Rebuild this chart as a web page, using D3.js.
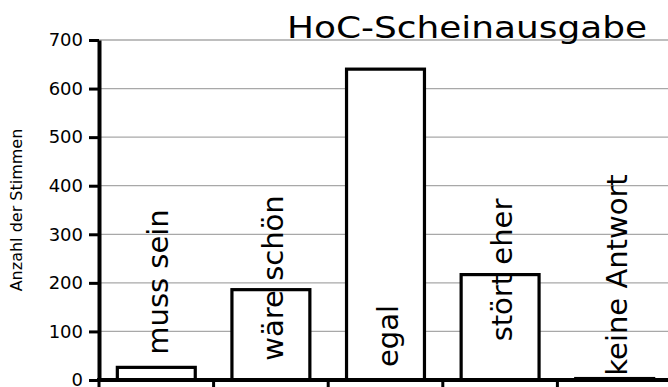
<!DOCTYPE html>
<html><head><meta charset="utf-8">
<script src="https://cdn.jsdelivr.net/npm/d3@7"></script>
<style>html,body{margin:0;padding:0;background:#fff;}svg{display:block;}</style>
</head><body>
<script>
const categories = ["muss sein", "wäre schön", "egal", "stört eher", "keine Antwort"];
const votes = [26, 186, 640, 217, 3];
const yTicks = [0, 100, 200, 300, 400, 500, 600, 700];
const titleText = "HoC-Scheinausgabe";
const yTitle = "Anzahl der Stimmen";
// layout: label centre height above axis (px)
const labelLift = [98, 102, 44, 110, 105];

const W = 668, H = 387;
const svg = d3.select("body").append("svg").attr("width", W).attr("height", H)
  .style("font-family", "'DejaVu Sans', Verdana, sans-serif");
svg.append("rect").attr("width", W).attr("height", H).attr("fill", "#fff");

const y = d3.scaleLinear().domain([0, 700]).range([380, 40]);
const x = d3.scaleBand().domain(categories).range([99, 672]).paddingInner(0.32).paddingOuter(0.16);

// gridlines
svg.append("g").selectAll("line").data(yTicks.filter(d => d > 0)).join("line")
  .attr("x1", 99).attr("x2", W).attr("y1", d => y(d)).attr("y2", d => y(d))
  .attr("stroke", "#a8a8a8").attr("stroke-width", 1.3);

// title
svg.append("text").attr("x", 287).attr("y", 38).attr("font-size", 30)
  .attr("textLength", 360).attr("lengthAdjust", "spacingAndGlyphs")
  .attr("fill", "#000").text(titleText);

// bars
svg.append("g").selectAll("rect").data(categories).join("rect")
  .attr("x", d => x(d)).attr("width", x.bandwidth())
  .attr("y", (d, i) => y(votes[i])).attr("height", (d, i) => y(0) - y(votes[i]))
  .attr("fill", "#fff").attr("stroke", "#000").attr("stroke-width", 3.2);

// category labels
svg.append("g").selectAll("text").data(categories).join("text")
  .attr("transform", (d, i) => `translate(${x(d) + x.bandwidth() / 2},${y(0) - labelLift[i]}) rotate(-90)`)
  .attr("text-anchor", "middle").attr("dy", "0.42em")
  .attr("font-size", 29).attr("fill", "#000").text(d => d);

// y axis
const yAxis = d3.axisLeft(y).tickValues(yTicks).tickSize(10).tickSizeOuter(0).tickPadding(6);
const gy = svg.append("g").attr("transform", "translate(99,0)").call(yAxis);
gy.select(".domain").attr("stroke", "#000").attr("stroke-width", 4);
gy.selectAll(".tick line").attr("stroke", "#000").attr("stroke-width", 3);
gy.selectAll(".tick text").attr("font-size", 18).attr("font-family", "'DejaVu Sans', Verdana, sans-serif").attr("fill", "#000");

// x axis
svg.append("line").attr("x1", 97).attr("x2", W).attr("y1", y(0)).attr("y2", y(0))
  .attr("stroke", "#000").attr("stroke-width", 4);
svg.append("g").selectAll("line").data(categories).join("line")
  .attr("x1", d => x(d) - x.step() * x.paddingInner() / 2)
  .attr("x2", d => x(d) - x.step() * x.paddingInner() / 2)
  .attr("y1", y(0)).attr("y2", y(0) + 10)
  .attr("stroke", "#000").attr("stroke-width", 3);

// y title
svg.append("text").attr("transform", `translate(22,${(y(0) + y(700)) / 2}) rotate(-90)`)
  .attr("text-anchor", "middle").attr("font-size", 16).attr("fill", "#000").text(yTitle);
</script>
</body></html>
